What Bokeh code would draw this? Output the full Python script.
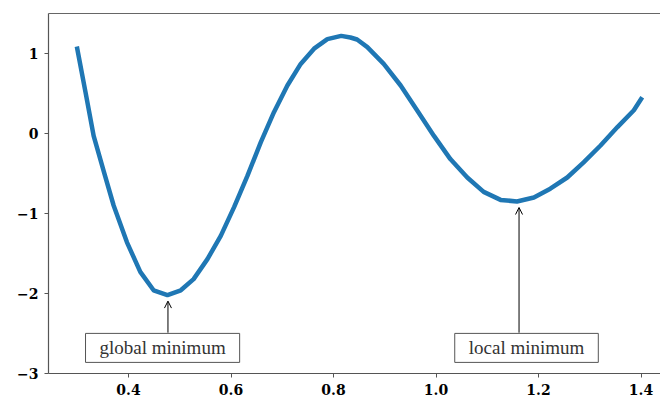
from bokeh.plotting import figure
from bokeh.models import (Range1d, LinearAxis, FixedTicker, Label, Arrow, OpenHead)
from bokeh.embed import file_html
from bokeh.resources import INLINE

# ---- data ----
x_vals = [0.300, 0.316, 0.332, 0.352, 0.371, 0.397, 0.423, 0.449, 0.476, 0.502,
          0.527, 0.554, 0.580, 0.606, 0.632, 0.658, 0.684, 0.710, 0.736, 0.762,
          0.788, 0.815, 0.833, 0.846, 0.866, 0.898, 0.931, 0.963, 0.996, 1.028,
          1.061, 1.093, 1.126, 1.158, 1.191, 1.223, 1.256, 1.288, 1.321, 1.354,
          1.386, 1.400]
y_vals = [1.06, 0.52, -0.03, -0.48, -0.90, -1.36, -1.73, -1.96, -2.02, -1.96,
          -1.82, -1.57, -1.28, -0.92, -0.53, -0.11, 0.27, 0.60, 0.87, 1.06,
          1.18, 1.22, 1.20, 1.175, 1.08, 0.87, 0.60, 0.29, -0.03, -0.32,
          -0.55, -0.73, -0.83, -0.85, -0.80, -0.69, -0.55, -0.36, -0.15, 0.08,
          0.29, 0.43]

x_ticks = [0.4, 0.6, 0.8, 1.0, 1.2, 1.4]
x_tick_labels = ["0.4", "0.6", "0.8", "1.0", "1.2", "1.4"]
y_ticks = [-3, -2, -1, 0, 1]
y_tick_labels = ["\u22123", "\u22122", "\u22121", "0", "1"]

annot_texts = ["global minimum", "local minimum"]
annot_xy = [(0.477, -2.02), (1.162, -0.85)]
annot_text_xy = [(0.4665, -2.68), (1.1766, -2.68)]

# ---- figure ----
p = figure(width=660, height=399, output_backend="svg", toolbar_location=None,
           x_range=Range1d(0.2439, 1.4380), y_range=Range1d(-3.0, 1.5),
           x_axis_location=None, y_axis_location=None,
           min_border_left=48, min_border_right=0, min_border_top=13,
           min_border_bottom=26)
p.grid.visible = False
p.outline_line_color = None
p.background_fill_color = "white"
p.border_fill_color = "white"

p.line(x_vals, y_vals, line_width=4.5, line_color="#1f77b4",
       line_join="round", line_cap="square")

tick_font = "DejaVu Serif"
xa = LinearAxis(ticker=FixedTicker(ticks=x_ticks),
                major_label_overrides={t: l for t, l in zip(x_ticks, x_tick_labels)})
ya = LinearAxis(ticker=FixedTicker(ticks=y_ticks),
                major_label_overrides={t: l for t, l in zip(y_ticks, y_tick_labels)})
for ax in (xa, ya):
    ax.axis_line_color = "#555555"
    ax.axis_line_width = 1.2
    ax.major_tick_line_color = "#555555"
    ax.major_tick_in = 0
    ax.major_tick_out = 4
    ax.minor_tick_line_color = None
    ax.major_label_text_font = tick_font
    ax.major_label_text_font_style = "bold"
    ax.major_label_text_font_size = "14px"
    ax.major_label_text_color = "black"
    ax.major_label_standoff = 6
p.add_layout(xa, "below")
p.add_layout(ya, "left")

top = LinearAxis(ticker=FixedTicker(ticks=[]), major_tick_out=0, major_tick_in=0,
                 major_label_standoff=0, minor_tick_line_color=None,
                 major_tick_line_color=None, axis_line_color="#666666",
                 axis_line_width=1.2, major_label_text_font_size="0px")
p.add_layout(top, "above")

for txt, (ax_, ay_), (tx, ty) in zip(annot_texts, annot_xy, annot_text_xy):
    p.add_layout(Arrow(end=OpenHead(size=7, line_width=1, line_color="black"),
                       x_start=ax_, y_start=-2.49, x_end=ax_, y_end=ay_ - 0.075,
                       line_color="black", line_width=1))
    p.add_layout(Label(x=tx, y=ty, text=txt, text_align="center",
                       text_baseline="middle", text_font="Liberation Serif",
                       text_font_size="19px", text_color="#333333",
                       background_fill_color="white",
                       border_line_color="#555555", border_line_width=1,
                       padding=(14, 4)))

open("out.html", "w").write(file_html(p, INLINE))
